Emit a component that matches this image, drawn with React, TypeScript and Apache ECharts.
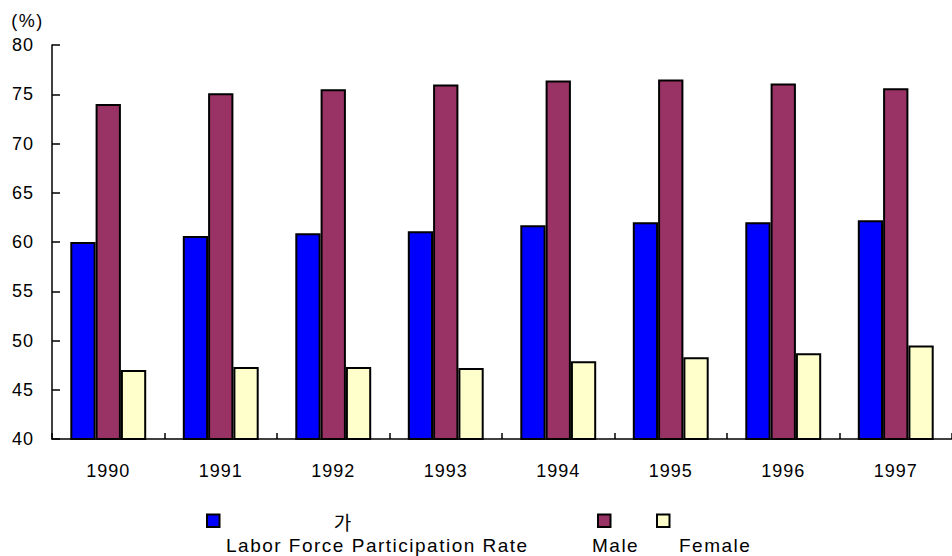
import React, { useEffect, useRef } from "react";
import * as echarts from "echarts";

const years = ["1990", "1991", "1992", "1993", "1994", "1995", "1996", "1997"];
const totalRate = [60.0, 60.6, 60.9, 61.1, 61.7, 62.0, 62.0, 62.2];
const maleRate = [74.0, 75.1, 75.5, 76.0, 76.4, 76.5, 76.1, 75.6];
const femaleRate = [47.0, 47.3, 47.3, 47.2, 47.9, 48.3, 48.7, 49.5];
const yTicks = [40, 45, 50, 55, 60, 65, 70, 75, 80];

const seriesNames = ["가", "Male", "Female"];
const seriesColors = ["#0000FF", "#993366", "#FFFFCC"];

const AXIS_FONT = "'Liberation Sans', Arial, sans-serif";
const LEGEND_FONT = "'Liberation Sans', Arimo, sans-serif";

export default function App() {
  const ref = useRef<HTMLDivElement>(null);

  useEffect(() => {
    document.body.style.margin = "0";
    if (!ref.current) return;
    const chart = echarts.init(ref.current, null, { renderer: "svg" });
    const values = [totalRate, maleRate, femaleRate];
    chart.setOption({
      animation: false,
      backgroundColor: "#ffffff",
      grid: { left: 52, right: -4, top: 45, bottom: 117, containLabel: false },
      xAxis: {
        type: "category",
        data: years,
        axisLine: { show: true, lineStyle: { color: "#000", width: 1.5 } },
        axisTick: { show: true, inside: true, length: 6, alignWithLabel: false, lineStyle: { color: "#000", width: 1.5 } },
        axisLabel: { color: "#000", fontSize: 18, fontFamily: AXIS_FONT, margin: 23 },
        splitLine: { show: false },
      },
      yAxis: {
        type: "value",
        min: yTicks[0],
        max: yTicks[yTicks.length - 1],
        interval: yTicks[1] - yTicks[0],
        axisLine: { show: true, lineStyle: { color: "#000", width: 1.5 } },
        axisTick: { show: true, inside: true, length: 8, lineStyle: { color: "#000", width: 1.5 } },
        axisLabel: { color: "#000", fontSize: 18, fontFamily: AXIS_FONT, margin: 18, padding: [7, 0, 0, 0] },
        splitLine: { show: false },
      },
      series: seriesNames.map((name, i) => ({
        name,
        type: "bar",
        data: values[i],
        barWidth: 25.3,
        barGap: "0%",
        itemStyle: { color: seriesColors[i], borderColor: "#000", borderWidth: 2 },
      })),
      graphic: [
        {
          type: "text",
          x: 27.5,
          y: 21,
          style: { text: "(%)", fontSize: 18, fontFamily: LEGEND_FONT, fill: "#000", textAlign: "center", textVerticalAlign: "middle" },
        },
        { type: "rect", shape: { x: 207, y: 514.5, width: 12.5, height: 12.5 }, style: { fill: seriesColors[0], stroke: "#000", lineWidth: 2 } },
        { type: "rect", shape: { x: 598, y: 514.5, width: 12.5, height: 12.5 }, style: { fill: seriesColors[1], stroke: "#000", lineWidth: 2 } },
        { type: "rect", shape: { x: 657, y: 514.5, width: 12.5, height: 12.5 }, style: { fill: seriesColors[2], stroke: "#000", lineWidth: 2 } },
        {
          type: "text",
          x: 343,
          y: 521,
          style: { text: seriesNames[0], fontSize: 19, fontFamily: "'Noto Sans CJK KR', sans-serif", fill: "#000", textAlign: "center", textVerticalAlign: "middle" },
        },
        {
          type: "text",
          x: 226,
          y: 545.5,
          style: { text: "Labor Force Participation Rate", fontSize: 19, fontFamily: LEGEND_FONT, fill: "#000", textAlign: "left", textVerticalAlign: "middle" },
        },
        {
          type: "text",
          x: 592,
          y: 545.5,
          style: { text: seriesNames[1], fontSize: 19, fontFamily: LEGEND_FONT, fill: "#000", textAlign: "left", textVerticalAlign: "middle" },
        },
        {
          type: "text",
          x: 679,
          y: 545.5,
          style: { text: seriesNames[2], fontSize: 19, fontFamily: LEGEND_FONT, fill: "#000", textAlign: "left", textVerticalAlign: "middle" },
        },
      ],
    });
    return () => chart.dispose();
  }, []);

  return (
    <>
      <style>{`
        #chart text { letter-spacing: 1px; }
        #chart text[style*="Arimo"], #chart text[font-family*="Arimo"] { letter-spacing: 1.5px; }
      `}</style>
      <div id="chart" ref={ref} style={{ width: 952, height: 556 }} />
    </>
  );
}
